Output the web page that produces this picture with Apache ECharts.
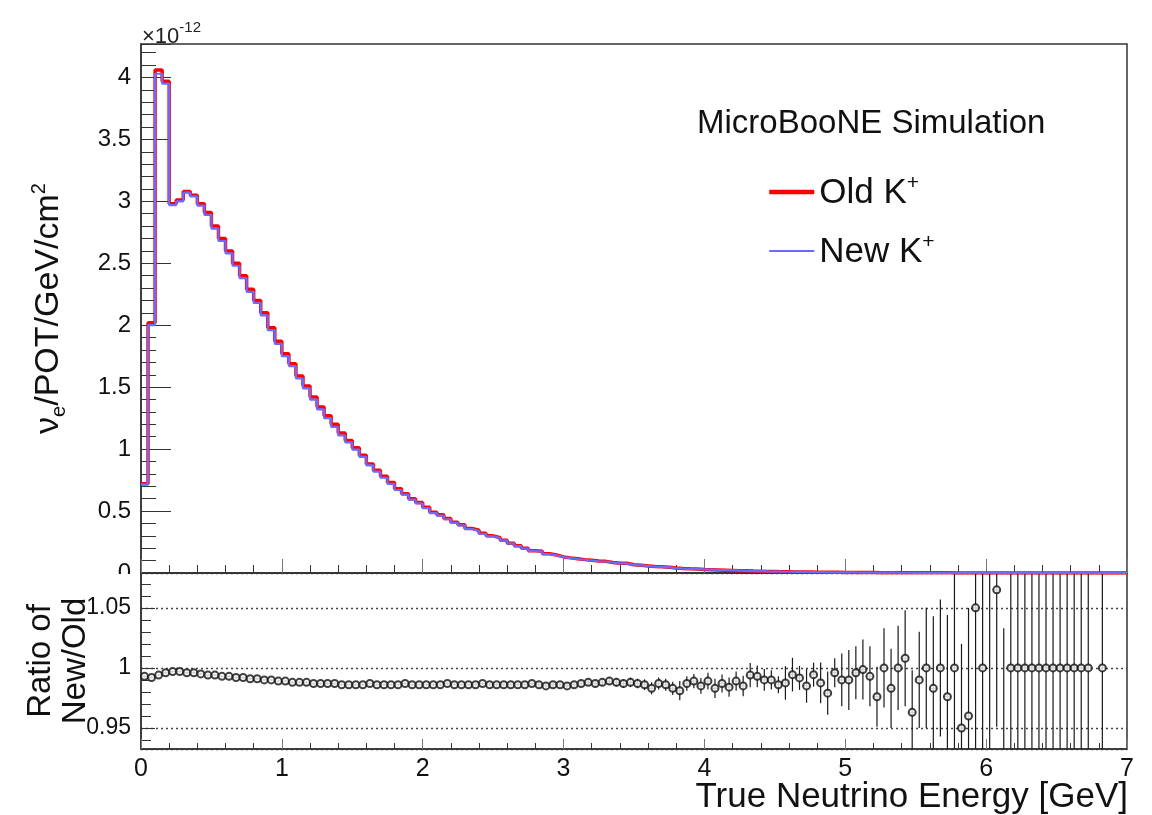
<!DOCTYPE html>
<html>
<head>
<meta charset="utf-8">
<script src="https://cdn.jsdelivr.net/npm/echarts@6/dist/echarts.min.js"></script>
<style>
  html, body { margin: 0; padding: 0; background: #fff; }
  #chart { width: 1152px; height: 815px; }
</style>
</head>
<body>
<div id="chart"></div>
<script>
// 140 bins of 0.05 GeV, 0 - 7 GeV
const binWidth = 0.05;
const nBins = 140;

// nu_e flux per bin (x1e-12), old K+ production
const oldFlux = [
  0.72, 2.02, 4.06, 3.97, 2.98, 3.01, 3.08, 3.05, 2.98, 2.91,
  2.80, 2.70, 2.60, 2.50, 2.40, 2.29, 2.20, 2.10, 1.98, 1.87,
  1.77, 1.69, 1.59, 1.51, 1.42, 1.34, 1.27, 1.20, 1.13, 1.07,
  1.01, 0.95, 0.88, 0.83, 0.78, 0.73, 0.68, 0.64, 0.60, 0.57,
  0.53, 0.49, 0.47, 0.44, 0.41, 0.39, 0.36, 0.345, 0.32, 0.30,
  0.285, 0.265, 0.24, 0.22, 0.20, 0.18, 0.175, 0.155, 0.145, 0.13,
  0.122, 0.115, 0.108, 0.102, 0.096, 0.094, 0.084, 0.079, 0.078, 0.066,
  0.062, 0.057, 0.052, 0.050, 0.046, 0.041, 0.037, 0.034, 0.032, 0.029,
  0.027, 0.025, 0.023, 0.021, 0.019, 0.018, 0.016, 0.015, 0.013, 0.012,
  0.011, 0.010, 0.009, 0.0085, 0.0078, 0.0070, 0.0064, 0.0058, 0.0053, 0.0048,
  0.0044, 0.0040, 0.0036, 0.0033, 0.0030, 0.0027, 0.0024, 0.0022, 0.0020, 0.0018,
  0.0016, 0.0015, 0.0013, 0.0012, 0.0011, 0.0010, 0.0009, 0.0008, 0.0007, 0.00065,
  0.0006, 0.00055, 0.0005, 0.00045, 0.0004, 0.00035, 0.0003, 0.00028, 0.00025, 0.00022,
  0.0002, 0.00018, 0.00016, 0.00014, 0.00012, 0.0001, 0.00009, 0.00008, 0.00007, 0.00006
];

// new K+ production
const newFlux = [
  0.715, 2.00, 4.03, 3.95, 2.97, 3.00, 3.07, 3.04, 2.965, 2.89,
  2.78, 2.68, 2.58, 2.48, 2.38, 2.27, 2.18, 2.08, 1.96, 1.85,
  1.75, 1.67, 1.57, 1.49, 1.40, 1.32, 1.25, 1.18, 1.11, 1.055,
  0.996, 0.937, 0.869, 0.818, 0.769, 0.720, 0.670, 0.632, 0.592, 0.562,
  0.523, 0.483, 0.463, 0.434, 0.404, 0.385, 0.355, 0.340, 0.316, 0.296,
  0.281, 0.261, 0.237, 0.217, 0.197, 0.178, 0.173, 0.153, 0.143, 0.128,
  0.120, 0.113, 0.107, 0.101, 0.095, 0.093, 0.083, 0.078, 0.077, 0.065,
  0.061, 0.056, 0.051, 0.049, 0.045, 0.040, 0.036, 0.0336, 0.0316, 0.0286,
  0.0267, 0.0246, 0.0227, 0.0207, 0.0188, 0.0177, 0.0159, 0.0149, 0.0129, 0.0119,
  0.0108, 0.0099, 0.0089, 0.0084, 0.0077, 0.0070, 0.0063, 0.0057, 0.0053, 0.0047,
  0.0044, 0.0039, 0.0036, 0.0033, 0.0029, 0.0027, 0.0024, 0.0022, 0.0019, 0.0018,
  0.0016, 0.0015, 0.0013, 0.0012, 0.0011, 0.0010, 0.0009, 0.0008, 0.0007, 0.00065,
  0.0006, 0.00055, 0.0005, 0.00045, 0.0004, 0.00035, 0.0003, 0.00028, 0.00025, 0.00022,
  0.0002, 0.00018, 0.00016, 0.00014, 0.00012, 0.0001, 0.00009, 0.00008, 0.00007, 0.00006
];

// ratio new/old per bin (null = empty bin)
const ratio = [
  0.993, 0.992, 0.994, 0.996, 0.997, 0.997, 0.996, 0.996, 0.995, 0.994,
  0.994, 0.993, 0.993, 0.992, 0.992, 0.991, 0.991, 0.990, 0.990, 0.989,
  0.989, 0.988, 0.988, 0.988, 0.987, 0.987, 0.987, 0.987, 0.986, 0.986,
  0.986, 0.986, 0.987, 0.986, 0.986, 0.986, 0.986, 0.987, 0.986, 0.986,
  0.986, 0.986, 0.986, 0.987, 0.986, 0.986, 0.986, 0.986, 0.987, 0.986,
  0.986, 0.986, 0.986, 0.986, 0.986, 0.987, 0.986, 0.985, 0.986, 0.986,
  0.985, 0.986, 0.987, 0.988, 0.987, 0.988, 0.989, 0.988, 0.987, 0.988,
  0.987, 0.986, 0.983, 0.987, 0.986, 0.983, 0.981, 0.987, 0.989, 0.985,
  0.989, 0.983, 0.987, 0.984, 0.989, 0.985, 0.994, 0.993, 0.990, 0.990,
  0.986, 0.9875, 0.9944, 0.9917, 0.985, 0.9944, 0.9875, 0.979, 0.996, 0.990,
  0.990, 0.996, 0.9986, 0.993, 0.976, 1.0, 0.983, 1.0, 1.008, 0.963,
  0.990, 1.0, 0.983, 1.0, 0.976, 1.0, 0.95, 0.96, 1.05, 1.0,
  0.90, 1.065, 0.90, 1.0, 1.0, 1.0, 1.0, 1.0, 1.0, 1.0,
  1.0, 1.0, 1.0, 1.0, 1.0, null, 1.0, null, null, null
];

const ratioErr = [
  0.001, 0.001, 0.001, 0.001, 0.001, 0.001, 0.001, 0.001, 0.001, 0.001,
  0.001, 0.001, 0.001, 0.001, 0.001, 0.001, 0.001, 0.001, 0.001, 0.001,
  0.001, 0.001, 0.001, 0.001, 0.001, 0.001, 0.001, 0.001, 0.001, 0.001,
  0.001, 0.001, 0.001, 0.001, 0.001, 0.001, 0.001, 0.001, 0.001, 0.001,
  0.001, 0.001, 0.001, 0.0012, 0.0012, 0.0012, 0.0012, 0.0013, 0.0013, 0.0014,
  0.0015, 0.0015, 0.0016, 0.0016, 0.0017, 0.0017, 0.0018, 0.0018, 0.0019, 0.0019,
  0.002, 0.002, 0.0025, 0.0025, 0.003, 0.003, 0.003, 0.0035, 0.0035, 0.004,
  0.004, 0.0045, 0.005, 0.005, 0.005, 0.0055, 0.008, 0.006, 0.006, 0.0065,
  0.007, 0.008, 0.0075, 0.008, 0.008, 0.0085, 0.01, 0.009, 0.009, 0.008,
  0.007, 0.014, 0.014, 0.01, 0.014, 0.01, 0.017, 0.018, 0.012, 0.022,
  0.025, 0.022, 0.025, 0.025, 0.025, 0.033, 0.033, 0.035, 0.04, 0.035,
  0.04, 0.05, 0.06, 0.057, 0.068, 0.1, 0.07, 0.09, 0.15, 0.2,
  0.25, 0.114, 0.133, 1, 1, 1, 1, 1, 1, 1,
  1, 1, 1, 1, 1, 0, 1, 0, 0, 0
];

const FONT = '"Liberation Sans", Arial, Helvetica, sans-serif';

// histogram outline: points at bin low edges + closing point at last edge
function stepData(vals) {
  const d = vals.map((v, i) => [+(i * binWidth).toFixed(2), v]);
  d.push([+(nBins * binWidth).toFixed(2), vals[vals.length - 1]]);
  return d;
}

const ratioPoints = [];
ratio.forEach((r, i) => {
  if (r !== null) ratioPoints.push([+((i + 0.5) * binWidth).toFixed(3), r, ratioErr[i]]);
});

function renderErrorBar(params, api) {
  const xc = api.value(0), r = api.value(1), e = api.value(2);
  const cs = params.coordSys;
  const yTop = cs.y, yBot = cs.y + cs.height;
  const clamp = y => Math.min(yBot, Math.max(yTop, y));
  const lo = api.coord([xc, r - e]);
  const hi = api.coord([xc, r + e]);
  const left = api.coord([xc - binWidth / 2, r]);
  const right = api.coord([xc + binWidth / 2, r]);
  const style = { stroke: '#1a1a1a', lineWidth: 1.2 };
  const children = [{
    type: 'line',
    shape: { x1: lo[0], y1: clamp(lo[1]), x2: hi[0], y2: clamp(hi[1]) },
    style: style
  }];
  if (left[1] >= yTop && left[1] <= yBot) {
    children.push({
      type: 'line',
      shape: { x1: left[0], y1: left[1], x2: right[0], y2: right[1] },
      style: style
    });
  }
  return { type: 'group', children: children };
}

const tickColor = '#333';
const frameColor = '#333';

let myChart = echarts.init(document.getElementById('chart'), null, { renderer: 'canvas' });

const option = {
  backgroundColor: '#fff',
  animation: false,
  textStyle: { fontFamily: FONT },
  title: [
    {
      text: '{a|\u00d710}{b|-12}',
      left: 137, top: 15,
      textStyle: {
        rich: {
          a: { fontSize: 22, fontWeight: 'normal', fontFamily: FONT, color: '#222', lineHeight: 28, verticalAlign: 'bottom' },
          b: { fontSize: 15, fontWeight: 'normal', fontFamily: FONT, color: '#222', lineHeight: 28, verticalAlign: 'top' }
        }
      }
    },
    {
      text: 'MicroBooNE Simulation',
      left: 692, top: 102,
      textStyle: { fontSize: 33, fontWeight: 'normal', fontFamily: FONT, color: '#111' }
    }
  ],
  legend: {
    orient: 'vertical',
    left: 767, top: 173, padding: 0,
    itemWidth: 45, itemHeight: 14, itemGap: 21,
    selectedMode: false,
    data: [
      { name: 'Old K+', lineStyle: { width: 4.5 } },
      { name: 'New K+', lineStyle: { width: 2 } }
    ],
    itemStyle: { color: 'rgba(0,0,0,0)', borderWidth: 0 },
    formatter: name => '{t|' + name.slice(0, -1) + '}{s|+}',
    textStyle: {
      rich: {
        t: { fontSize: 35, fontFamily: FONT, color: '#111', lineHeight: 38, verticalAlign: 'bottom' },
        s: { fontSize: 21, fontFamily: FONT, color: '#111', lineHeight: 38, verticalAlign: 'top' }
      }
    }
  },
  grid: [
    { left: 141, right: 25, top: 44, height: 529, show: true, borderColor: frameColor, borderWidth: 1.5, outerBoundsMode: 'none', containLabel: false },
    { left: 141, right: 25, top: 573, height: 176, show: true, borderColor: frameColor, borderWidth: 1.5, outerBoundsMode: 'none', containLabel: false }
  ],
  xAxis: [
    {
      type: 'value', gridIndex: 0, min: 0, max: 7, interval: 1,
      axisLine: { lineStyle: { color: frameColor, width: 1.5 } },
      axisTick: { inside: true, length: 14, lineStyle: { color: '#777' } },
      minorTick: { show: true, splitNumber: 5, length: 8, lineStyle: { color: tickColor } },
      axisLabel: { show: false },
      splitLine: { show: false }
    },
    {
      type: 'value', gridIndex: 1, min: 0, max: 7, interval: 1,
      axisLine: { lineStyle: { color: frameColor, width: 1.5 } },
      axisTick: { inside: true, length: 10, lineStyle: { color: '#777' } },
      minorTick: { show: true, splitNumber: 5, length: 6, lineStyle: { color: tickColor } },
      axisLabel: { fontSize: 25, color: '#111', fontFamily: FONT, margin: 8 },
      splitLine: { show: false }
    }
  ],
  yAxis: [
    {
      type: 'value', gridIndex: 0, min: 0, max: 4.27, interval: 0.5,
      axisLine: { lineStyle: { color: frameColor, width: 1.5 } },
      axisTick: { inside: true, length: 30, lineStyle: { color: tickColor } },
      minorTick: { show: true, splitNumber: 5, length: 15, lineStyle: { color: tickColor } },
      axisLabel: {
        fontSize: 24, color: '#111', fontFamily: FONT, margin: 10,
        formatter: v => (Math.abs(v * 2 - Math.round(v * 2)) < 1e-6 && v <= 4.001) ? String(+v.toFixed(1)) : ''
      },
      splitLine: { show: false },
      name: '{a|\u03bd}{s|e}{a|/POT/GeV/cm}{p|2}',
      nameLocation: 'middle',
      nameRotate: 90,
      nameGap: 72,
      nameMoveOverlap: false,
      nameTextStyle: {
        rich: {
          a: { fontSize: 34, fontFamily: FONT, color: '#111', lineHeight: 40, verticalAlign: 'middle' },
          s: { fontSize: 20, fontFamily: FONT, color: '#111', lineHeight: 40, verticalAlign: 'bottom' },
          p: { fontSize: 20, fontFamily: FONT, color: '#111', lineHeight: 40, verticalAlign: 'top' }
        }
      }
    },
    {
      type: 'value', gridIndex: 1, min: 0.9325, max: 1.079,
      minInterval: 0.05, maxInterval: 0.05,
      axisLine: { lineStyle: { color: frameColor, width: 1.5 } },
      axisTick: { inside: true, length: 14, lineStyle: { color: tickColor } },
      minorTick: { show: true, splitNumber: 5, length: 10, lineStyle: { color: tickColor } },
      axisLabel: {
        fontSize: 23, color: '#111', fontFamily: FONT, margin: 10,
        formatter: v => {
          const k = v / 0.05;
          if (Math.abs(k - Math.round(k)) > 1e-6 || v < 0.94 || v > 1.06) return '';
          return String(+v.toFixed(2));
        }
      },
      splitLine: { show: true, lineStyle: { color: '#444', type: [2, 3], width: 1.3 } },
      name: 'Ratio of\nNew/Old',
      nameLocation: 'middle',
      nameRotate: 90,
      nameGap: 48,
      nameMoveOverlap: false,
      nameTextStyle: { fontSize: 33, fontFamily: FONT, color: '#111', lineHeight: 35 }
    }
  ],
  series: [
    {
      name: 'Old K+', type: 'line', xAxisIndex: 0, yAxisIndex: 0,
      step: 'end', symbol: 'none', silent: true,
      lineStyle: { color: '#ff0000', width: 3.5 },
      itemStyle: { color: '#ff0000' },
      data: stepData(oldFlux), z: 2
    },
    {
      name: 'New K+', type: 'line', xAxisIndex: 0, yAxisIndex: 0,
      step: 'end', symbol: 'none', silent: true,
      lineStyle: { color: '#6b6bff', width: 2.2 },
      itemStyle: { color: '#6b6bff' },
      data: stepData(newFlux), z: 3
    },
    {
      name: 'errors', type: 'custom', xAxisIndex: 1, yAxisIndex: 1,
      renderItem: renderErrorBar, silent: true, clip: true,
      encode: { x: 0, y: 1 },
      data: ratioPoints, z: 3
    },
    {
      name: 'ratio', type: 'scatter', xAxisIndex: 1, yAxisIndex: 1,
      symbol: 'emptyCircle', symbolSize: 7, silent: true, clip: true,
      itemStyle: { color: '#111', borderWidth: 1.1 },
      data: ratioPoints.map(p => [p[0], p[1]]), z: 4
    }
  ],
  graphic: [
    // the ratio pad hides the lower half of the top pad's "0" label
    { type: 'rect', left: 90, top: 574, shape: { width: 48, height: 16 }, style: { fill: '#fff' }, z: 100 },
    // x-axis title, right-aligned under the axis end as in ROOT
    {
      type: 'text', right: 24, top: 780, z: 100,
      style: { text: 'True Neutrino Energy [GeV]', fontSize: 35, fontFamily: FONT, fill: '#111' }
    }
  ]
};

myChart.setOption(option);
window.addEventListener('resize', () => {
  myChart.resize();
});
</script>
</body>
</html>
